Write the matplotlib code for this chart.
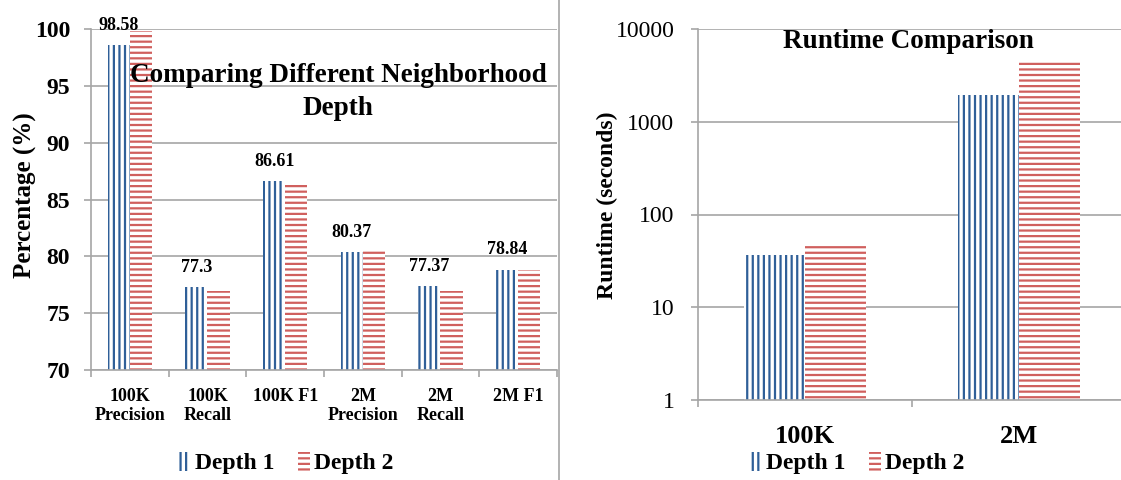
import numpy as np
import matplotlib
matplotlib.use("Agg")
import matplotlib.pyplot as plt
from matplotlib.lines import Line2D
from matplotlib.patches import Patch

# ---- data -------------------------------------------------------------
quality_cats = ["100K\nPrecision", "100K\nRecall", "100K F1",
                "2M\nPrecision", "2M\nRecall", "2M F1"]
quality_depth1 = [98.58, 77.3, 86.61, 80.37, 77.37, 78.84]
quality_depth2 = [99.8, 76.95, 86.35, 80.64, 76.95, 78.84]

runtime_cats = ["100K", "2M"]
runtime_depth1 = [36.6, 1942]
runtime_depth2 = [48.1, 4519]

series_names = ["Depth 1", "Depth 2"]

BLUE = "#2f5f98"
RED = "#d0605e"
GRID = "#a6a6a6"

plt.rcParams["font.family"] = ["Liberation Serif", "DejaVu Serif"]
plt.rcParams["hatch.linewidth"] = 1.6

W, H = 1121, 480
fig = plt.figure(figsize=(W / 100, H / 100), dpi=100)


def style_axes(ax):
    for s in ("top", "right"):
        ax.spines[s].set_visible(False)
    for s in ("left", "bottom"):
        ax.spines[s].set_color(GRID)
        ax.spines[s].set_linewidth(1.2)
    ax.grid(True, axis="y", color=GRID, lw=1.2)
    ax.set_axisbelow(True)
    ax.tick_params(axis="y", color=GRID, length=5, width=1.2)
    ax.tick_params(axis="x", which="major", length=0)
    ax.tick_params(axis="x", which="minor", color=GRID, length=5, width=1.2)


# ---- left: quality ----------------------------------------------------
ax1 = fig.add_axes([91 / W, 1 - 370 / H, 466 / W, 341 / H])
x1 = np.arange(len(quality_cats))
bw = 0.285
ax1.bar(x1 - bw / 2, np.array(quality_depth1) - 70, bw, bottom=70,
        facecolor="white", edgecolor=BLUE, lw=0, hatch="|||")
ax1.bar(x1 + bw / 2, np.array(quality_depth2) - 70, bw, bottom=70,
        facecolor="white", edgecolor=RED, lw=0, hatch="---")
for xi, v in zip(x1, quality_depth1):
    ax1.annotate(f"{v:g}", (xi - bw / 2, v), xytext=(0, 8), textcoords="offset points",
                 ha="center", va="bottom", fontsize=13, fontweight="bold",
                 annotation_clip=False)
ax1.set_xlim(-0.5, len(quality_cats) - 0.5)
ax1.set_ylim(70, 100)
ax1.set_yticks(np.arange(70, 101, 5))
ax1.set_xticks(x1)
ax1.set_xticklabels(quality_cats, fontsize=13, fontweight="bold", linespacing=1.15)
ax1.set_xticks(np.arange(len(quality_cats) + 1) - 0.5, minor=True)
style_axes(ax1)
ax1.tick_params(axis="x", pad=13)
ax1.tick_params(axis="y", labelsize=17, pad=10)
for t in ax1.get_yticklabels():
    t.set_fontweight("bold")
fig.text(25 / W, 1 - 195 / H, "Percentage (%)", rotation=90, ha="center", va="center",
         fontsize=18, fontweight="bold")
fig.text(338 / W, 1 - 92 / H, "Comparing Different Neighborhood\nDepth",
         ha="center", va="center", fontsize=19.5, fontweight="bold", linespacing=1.4)

# ---- right: runtime ---------------------------------------------------
ax2 = fig.add_axes([698 / W, 1 - 400 / H, 428 / W, 371 / H])
x2 = np.arange(len(runtime_cats))
bw2 = 0.285
ax2.bar(x2 - bw2 / 2, runtime_depth1, bw2, facecolor="white", edgecolor=BLUE,
        lw=0, hatch="|||")
ax2.bar(x2 + bw2 / 2, runtime_depth2, bw2, facecolor="white", edgecolor=RED,
        lw=0, hatch="---")
ax2.set_yscale("log")
ax2.set_ylim(1, 10000)
ax2.set_yticks([1, 10, 100, 1000, 10000])
ax2.set_yticklabels(["1", "10", "100", "1000", "10000"])
ax2.yaxis.set_minor_locator(matplotlib.ticker.NullLocator())
ax2.set_xlim(-0.5, len(runtime_cats) - 0.5)
ax2.set_xticks(x2)
ax2.set_xticklabels(runtime_cats, fontsize=19, fontweight="bold")
ax2.set_xticks(np.arange(len(runtime_cats) + 1) - 0.5, minor=True)
style_axes(ax2)
ax2.tick_params(axis="x", pad=18)
ax2.tick_params(axis="y", labelsize=17, pad=12)
fig.text(607 / W, 1 - 205 / H, "Runtime (seconds)", rotation=90, ha="center", va="center",
         fontsize=17, fontweight="bold")
fig.text(908 / W, 1 - 41 / H, "Runtime Comparison", ha="center", va="center",
         fontsize=19.5, fontweight="bold")

# ---- legends ----------------------------------------------------------
handles = [Patch(facecolor="white", edgecolor=BLUE, lw=0, hatch="|||"),
           Patch(facecolor="white", edgecolor=RED, lw=0, hatch="---")]
for cx in (286, 857):
    fig.legend(handles, series_names, loc="center", bbox_to_anchor=(cx / W, 1 - 463 / H),
               ncol=2, frameon=False, prop={"size": 17, "weight": "bold"},
               handlelength=0.5, handleheight=0.9, handletextpad=0.2, columnspacing=1.0)

# divider between the two charts
fig.add_artist(Line2D([559 / W, 559 / W], [0, 1], color=GRID, lw=1.2))

fig.savefig("out.png", dpi=100)
